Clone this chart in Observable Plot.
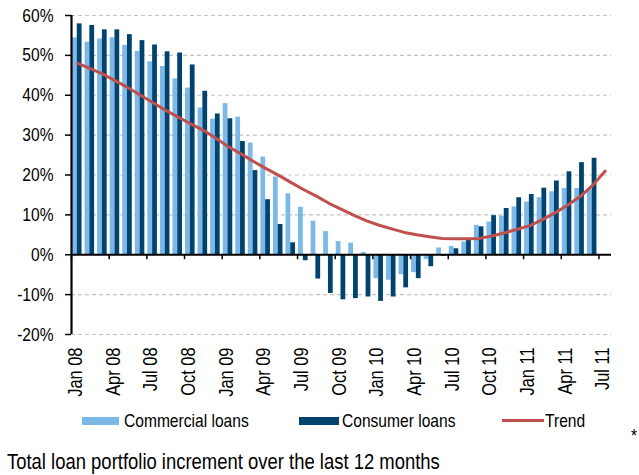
<!DOCTYPE html>
<html>
<head>
<meta charset="utf-8">
<script src="https://cdn.jsdelivr.net/npm/d3@7"></script>
<script src="https://cdn.jsdelivr.net/npm/@observablehq/plot@0.6"></script>
<style>
  body { margin: 0; background: #fff; }
  #wrap { position: relative; width: 639px; height: 475px; overflow: hidden;
    font-family: "Liberation Sans", Arial, sans-serif; color: #000; }
  .lg { position: absolute; white-space: nowrap; line-height: 1; transform: scaleX(0.82); transform-origin: 0 0; }
  .sw { position: absolute; }
</style>
</head>
<body>
<div id="wrap"></div>
<script>
// ---- data ----
const months = [
  "Jan 08","Feb 08","Mar 08","Apr 08","May 08","Jun 08","Jul 08","Aug 08","Sep 08","Oct 08","Nov 08","Dec 08",
  "Jan 09","Feb 09","Mar 09","Apr 09","May 09","Jun 09","Jul 09","Aug 09","Sep 09","Oct 09","Nov 09","Dec 09",
  "Jan 10","Feb 10","Mar 10","Apr 10","May 10","Jun 10","Jul 10","Aug 10","Sep 10","Oct 10","Nov 10","Dec 10",
  "Jan 11","Feb 11","Mar 11","Apr 11","May 11","Jun 11","Jul 11"
];
const commercial = [
  54.4, 53.3, 54.1, 54.4, 52.5, 51.0, 48.4, 47.2, 44.1, 41.8, 36.8, 34.0,
  37.9, 34.5, 28.0, 24.5, 19.5, 15.3, 11.9, 8.4, 5.8, 3.3, 2.9, 0.6,
  -6.0, -6.4, -5.0, -4.5, -1.2, 1.7, 2.1, 3.2, 7.4, 8.2, 9.7, 12.0,
  13.2, 14.3, 15.8, 16.6, 16.6, 16.2, null
];
const consumer = [
  57.9, 57.5, 56.4, 56.4, 55.2, 53.7, 52.6, 50.9, 50.6, 47.6, 41.0, 35.3,
  34.1, 28.4, 21.1, 13.8, 7.6, 3.0, -1.5, -6.1, -9.7, -11.3, -11.0, -10.6,
  -11.7, -10.6, -8.3, -6.0, -3.0, -0.4, 1.5, 3.8, 7.0, 9.8, 11.6, 14.3,
  15.1, 16.7, 18.5, 20.8, 23.1, 24.2, null
];
const trend = [
  48.0, 46.7, 45.3, 43.6, 41.9, 40.0, 38.1, 36.2, 34.5, 32.8, 31.2, 29.2,
  27.1, 25.3, 23.4, 21.6, 19.9, 18.1, 16.3, 14.7, 12.9, 11.4, 9.9, 8.5,
  7.4, 6.5, 5.6, 5.0, 4.5, 4.1, 4.0, 4.0, 4.1, 4.7, 5.5, 6.4,
  7.3, 8.8, 10.5, 12.4, 14.6, 17.4, 21.0
];
const tickLabels = ["Jan 08","Apr 08","Jul 08","Oct 08","Jan 09","Apr 09","Jul 09","Oct 09",
                    "Jan 10","Apr 10","Jul 10","Oct 10","Jan 11","Apr 11","Jul 11"];
const yTicks = [-20, -10, 0, 10, 20, 30, 40, 50, 60];
const seriesNames = ["Commercial loans", "Consumer loans", "Trend"];
const colors = ["#7db9e8", "#00436f", "#c0504d"];
const caption = "Total loan portfolio increment over the last 12 months";

// ---- build ----
const FONT = '"Liberation Sans", Arial, sans-serif';
const rows = months.map((m, i) => ({i, m, commercial: commercial[i], consumer: consumer[i], trend: trend[i]}));
const tickIdx = tickLabels.map(d => ({label: d, i: months.indexOf(d)}));

const chart = Plot.plot({
  width: 639,
  height: 400,
  marginLeft: 71,
  marginRight: 28,
  marginTop: 15,
  marginBottom: 66,
  style: {fontFamily: FONT, fontSize: "19px", background: "#fff", color: "#000", overflow: "visible"},
  x: {domain: [0, months.length], axis: null},
  y: {domain: [-20, 60], axis: null},
  marks: [
    Plot.ruleY(yTicks.filter(d => d !== 0), {x1: 0, x2: months.length, stroke: "#c4c4c4", strokeWidth: 1.2, strokeDasharray: "4,3"}),
    Plot.rect(rows.filter(d => d.commercial != null), {x1: d => d.i + 0.08, x2: d => d.i + 0.46, y1: 0, y2: "commercial", fill: colors[0]}),
    Plot.rect(rows.filter(d => d.consumer != null), {x1: d => d.i + 0.46, x2: d => d.i + 0.84, y1: 0, y2: "consumer", fill: colors[1]}),
    Plot.ruleY([0], {x1: 0, x2: months.length, stroke: "#000", strokeWidth: 2.2}),
    Plot.ruleX(tickIdx, {x: "i", y1: 0, y2: 0, insetBottom: -5, stroke: "#000", strokeWidth: 1.5}),
    Plot.ruleX([0], {y1: -20, y2: 60, stroke: "#000", strokeWidth: 2.2}),
    Plot.line(rows, {x: d => d.i + 0.5, y: "trend", stroke: colors[2], strokeWidth: 3, strokeLinejoin: "round"}),
    Plot.axisY(yTicks, {tickSize: 6, tickPadding: 12, tickFormat: d => d + "%", fontSize: 19, strokeWidth: 1.5}),
    Plot.text(tickIdx, {x: "i", y: -20, text: "label", rotate: -90, textAnchor: "end", dx: 4, dy: 13, fontSize: 20, fill: "#000"})
  ]
});

const wrap = document.getElementById("wrap");
chart.style.position = "absolute";
chart.style.left = "0px";
chart.style.top = "0px";
wrap.appendChild(chart);

// emulate a narrow face: squeeze each label to 82% of its natural length
chart.querySelectorAll("text").forEach(t => {
  const len = t.getComputedTextLength();
  if (len > 0) {
    t.setAttribute("textLength", (len * 0.82).toFixed(2));
    t.setAttribute("lengthAdjust", "spacingAndGlyphs");
  }
});

function addText(txt, left, top, size) {
  const d = document.createElement("div");
  d.className = "lg";
  d.textContent = txt;
  d.style.left = left + "px";
  d.style.top = top + "px";
  d.style.fontSize = size + "px";
  wrap.appendChild(d);
}
function addBox(left, top, w, h, color) {
  const d = document.createElement("div");
  d.className = "sw";
  d.style.left = left + "px"; d.style.top = top + "px";
  d.style.width = w + "px"; d.style.height = h + "px";
  d.style.background = color;
  wrap.appendChild(d);
}
// legend
addBox(82, 417, 37, 8, colors[0]);
addText(seriesNames[0], 124, 411, 19);
addBox(299, 417, 40, 8, colors[1]);
addText(seriesNames[1], 342, 411, 19);
addBox(502, 419, 42, 3, colors[2]);
addText(seriesNames[2], 545, 411, 19);
addText("*", 631, 426, 19);
// caption
addText(caption, 7, 451, 22.5);
</script>
</body>
</html>
